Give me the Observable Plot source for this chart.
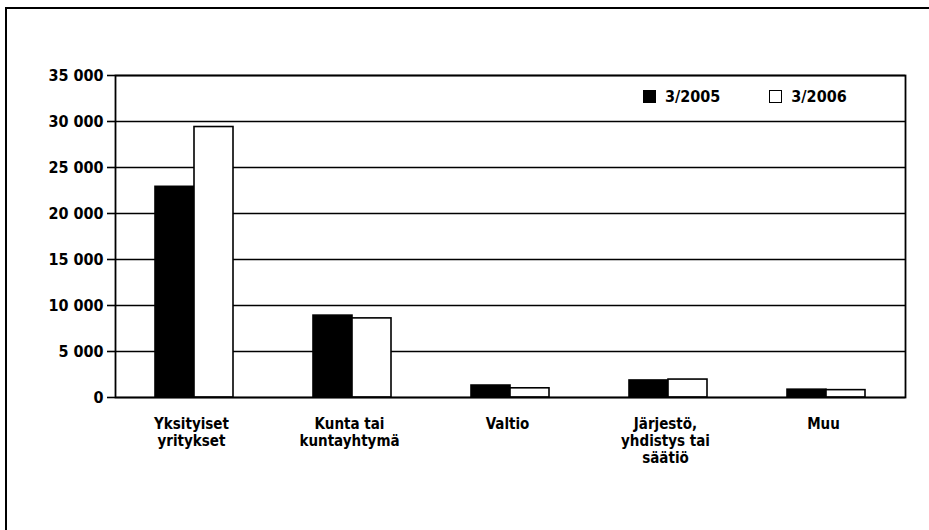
<!DOCTYPE html>
<html>
<head>
<meta charset="utf-8">
<script src="https://cdn.jsdelivr.net/npm/d3@7"></script>
<script src="https://cdn.jsdelivr.net/npm/@observablehq/plot@0.6"></script>
<style>
  html, body { margin: 0; padding: 0; background: white; overflow: hidden; }
  #wrap { position: relative; width: 929px; height: 530px; overflow: hidden; font-family: "DejaVu Sans Condensed", "Liberation Sans Narrow", sans-serif; }
  #topline { position: absolute; left: 5px; top: 7px; width: 924px; height: 2px; background: #000; }
  #leftline { position: absolute; left: 5px; top: 7px; width: 2px; height: 523px; background: #000; }
  #legend { position: absolute; left: 643px; top: 87px; display: flex; align-items: center; font-size: 16px; font-weight: bold; color: #000; }
  .sw { display: inline-block; width: 13px; height: 13px; border: 1.5px solid #000; box-sizing: border-box; margin-right: 9px; }
  .item { display: flex; align-items: center; margin-right: 49px; }
</style>
</head>
<body>
<div id="wrap">
  <div id="chart"></div>
  <div id="topline"></div>
  <div id="leftline"></div>
  <div id="legend"></div>
</div>
<script>
const categories = ["Yksityiset\nyritykset", "Kunta tai\nkuntayhtymä", "Valtio", "Järjestö,\nyhdistys tai\nsäätiö", "Muu"];
const seriesNames = ["3/2005", "3/2006"];
const seriesFills = ["#000000", "#ffffff"];
const values2005 = [22900, 8900, 1300, 1850, 850];
const values2006 = [29400, 8600, 1000, 1950, 800];
const yTicks = [0, 5000, 10000, 15000, 20000, 25000, 30000, 35000];

const data = [];
categories.forEach((c, i) => {
  data.push({cat: c, series: seriesNames[0], value: values2005[i]});
  data.push({cat: c, series: seriesNames[1], value: values2006[i]});
});

const fmt = d => d3.format(",")(d).replace(/,/g, " ");

const plot = Plot.plot({
  width: 929,
  height: 530,
  marginLeft: 113,
  marginRight: 23,
  marginTop: 75,
  marginBottom: 133,
  style: {fontFamily: '"DejaVu Sans Condensed", "Liberation Sans Narrow", sans-serif', fontSize: "15px", fontWeight: "bold", color: "#000", background: "white"},
  fx: {domain: categories, padding: 0, label: null},
  x: {domain: seriesNames, paddingInner: 0, paddingOuter: 0.98, axis: null},
  y: {domain: [0, 35000], label: null},
  color: {domain: seriesNames, range: seriesFills},
  marks: [
    Plot.ruleY(yTicks, {stroke: "#000", strokeWidth: 1.6}),
    Plot.barY(data, {fx: "cat", x: "series", y: "value", fill: "series", stroke: "#000", strokeWidth: 1.6}),
    Plot.frame({facet: "super", stroke: "#000", strokeWidth: 1.8}),
    Plot.axisY({ticks: yTicks, tickFormat: fmt, tickSize: 8, tickPadding: 4, strokeWidth: 1.6, label: null, fontSize: 16}),
    Plot.axisFx({anchor: "bottom", tickSize: 0, tickPadding: 19, label: null, fontSize: 15, lineHeight: 1.15, dx: -3})
  ]
});
document.getElementById("chart").appendChild(plot);

const legend = document.getElementById("legend");
seriesNames.forEach((s, i) => {
  const item = document.createElement("div");
  item.className = "item";
  const sw = document.createElement("span");
  sw.className = "sw";
  sw.style.background = seriesFills[i];
  item.appendChild(sw);
  item.appendChild(document.createTextNode(s));
  legend.appendChild(item);
});
</script>
</body>
</html>
